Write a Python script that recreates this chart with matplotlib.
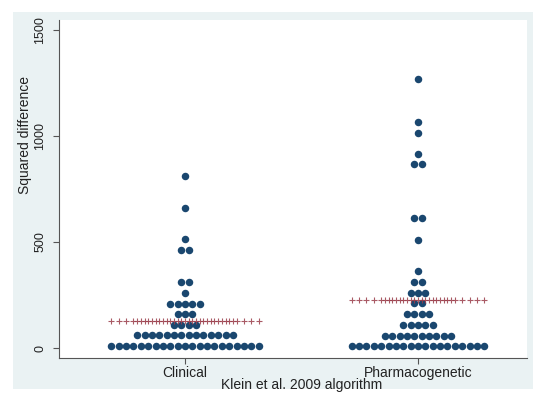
import numpy as np
import matplotlib.pyplot as plt
from matplotlib.patches import Rectangle

plt.rcParams['font.family'] = ['Liberation Sans', 'DejaVu Sans']

groups = ['Clinical', 'Pharmacogenetic']

# dot rows (binned squared difference) and number of dots in each row
clin_rows = [9, 60, 108, 160, 208, 259, 311, 462, 514, 662, 813]
clin_counts = [21, 14, 4, 3, 5, 1, 2, 2, 1, 1, 1]
pharm_rows = [9, 58, 108, 160, 212, 261, 313, 363, 511, 615, 868, 915, 1016, 1066, 1269]
pharm_counts = [19, 10, 5, 4, 2, 3, 2, 1, 1, 2, 2, 1, 1, 1, 1]
group_means = [127, 226]

y_ticks = [0, 500, 1000, 1500]

navy = '#1a476f'
maroon = '#9a3d4a'
spacing = 0.0316

fig = plt.figure(figsize=(5.38, 3.98), dpi=100, facecolor='white')
fig.add_artist(Rectangle((13 / 538, 1 - 389 / 398), 520 / 538, 377 / 398,
                         transform=fig.transFigure, facecolor='#eaf2f3',
                         edgecolor='none', zorder=-1))
ax = fig.add_axes([59 / 538, 1 - 358 / 398, 468 / 538, 338 / 398])
ax.set_facecolor('white')

for gi, (rows, counts) in enumerate([(clin_rows, clin_counts), (pharm_rows, pharm_counts)]):
    center = gi + 1
    xs, ys = [], []
    for yv, n in zip(rows, counts):
        offs = (np.arange(n) - (n - 1) / 2) * spacing
        xs.extend(center + offs)
        ys.extend([yv] * n)
    ax.plot(xs, ys, 'o', color=navy, markersize=5.4, markeredgewidth=0, zorder=2)
    # line of pluses at the mean, one at each dot position
    px = np.unique(np.round(xs, 5))
    ax.plot(px, [group_means[gi]] * len(px), '+', color=maroon, markersize=5,
            markeredgewidth=0.8, alpha=0.85, zorder=3)

ax.set_xlim(0.459, 2.468)
ax.set_ylim(-47, 1547)
ax.set_xticks([1, 2])
ax.set_xticklabels(groups, fontsize=10)
ax.set_yticks(y_ticks)
ax.set_yticklabels([str(t) for t in y_ticks], fontsize=9, rotation=90, va='center')

for side in ['top', 'right']:
    ax.spines[side].set_visible(False)
for side in ['left', 'bottom']:
    ax.spines[side].set_color('#555555')
    ax.spines[side].set_linewidth(0.8)
ax.tick_params(axis='both', length=4, width=0.8, color='#555555', labelcolor='#222222')
ax.tick_params(axis='x', pad=2)
ax.tick_params(axis='y', pad=5)

ax.set_xlabel('Klein et al. 2009 algorithm', fontsize=10, color='#222222', va='center')
ax.xaxis.set_label_coords((301.5 - 59) / 468, (358 - 385) / 338)
ax.set_ylabel('Squared difference', fontsize=10, color='#222222', va='center', ha='center')
ax.yaxis.set_label_coords((25 - 59) / 468, (358 - 135.5) / 338)

fig.savefig('out.png', dpi=100, facecolor='white')
